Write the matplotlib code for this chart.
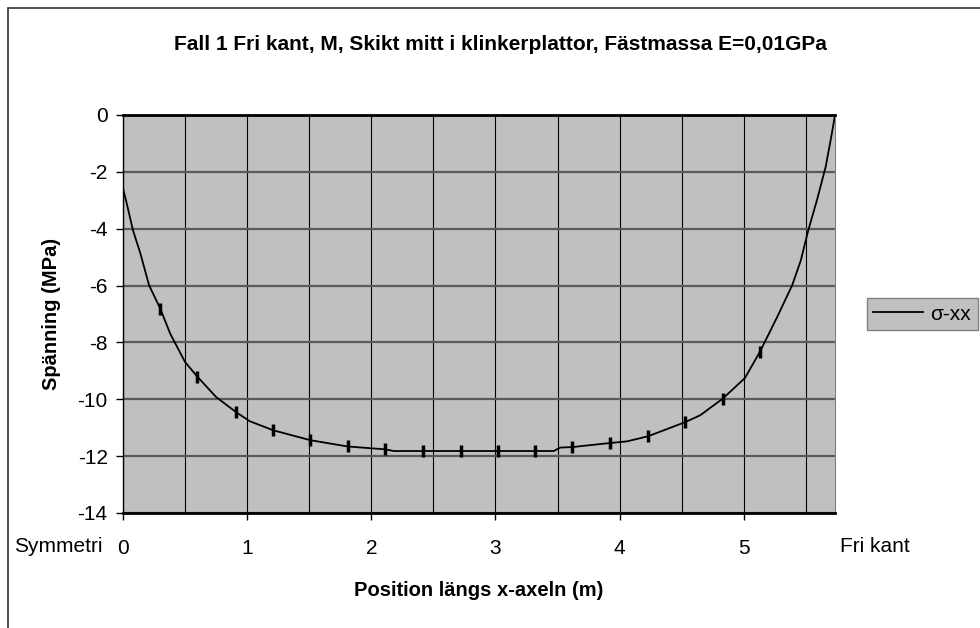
import matplotlib.pyplot as plt
from matplotlib.patches import Rectangle

# values
pos_x = [0.0, 0.03, 0.08, 0.14, 0.21, 0.30, 0.38, 0.50, 0.60, 0.75,
         0.91, 1.02, 1.21, 1.51, 1.81, 2.11, 2.18, 2.42, 2.72, 3.02,
         3.32, 3.47, 3.52, 3.62, 3.92, 4.06, 4.23, 4.53, 4.65, 4.83,
         5.01, 5.13, 5.27, 5.39, 5.46, 5.52, 5.59, 5.66, 5.71, 5.735]
sigma_xx = [-2.58, -3.11, -4.05, -4.87, -5.99, -6.81, -7.69, -8.69, -9.21, -9.92,
            -10.45, -10.77, -11.09, -11.44, -11.66, -11.76, -11.82, -11.82, -11.82, -11.82,
            -11.82, -11.82, -11.70, -11.68, -11.54, -11.48, -11.30, -10.80, -10.56, -9.98,
            -9.25, -8.33, -7.10, -5.99, -5.11, -4.05, -2.99, -1.82, -0.64, 0.0]

# element boundaries (small vertical marks on the curve)
mark_x = [0.30, 0.60, 0.91, 1.21, 1.51, 1.81, 2.11, 2.42, 2.72, 3.02,
          3.32, 3.62, 3.92, 4.23, 4.53, 4.83, 5.13]
mark_y = [-6.81, -9.21, -10.45, -11.09, -11.44, -11.66, -11.76, -11.82, -11.82, -11.82,
          -11.82, -11.68, -11.54, -11.30, -10.80, -9.98, -8.33]

x_ticks = [0, 1, 2, 3, 4, 5]
y_ticks = [0, -2, -4, -6, -8, -10, -12, -14]

title = "Fall 1 Fri kant, M, Skikt mitt i klinkerplattor, Fästmassa E=0,01GPa"

plt.rcParams['font.family'] = ['Liberation Sans', 'DejaVu Sans']
plt.rcParams['axes.unicode_minus'] = False

fig = plt.figure(figsize=(9.8, 6.28), dpi=100)
W, H = 980.0, 628.0
ax = fig.add_axes([123 / W, 1 - 513 / H, (835 - 123) / W, (513 - 115) / H])
ax.set_facecolor('#C0C0C0')

ax.plot(pos_x, sigma_xx, color='black', lw=1.3, label='σ-xx', zorder=3)
ax.plot(mark_x, mark_y, ls='none', marker='|', ms=9, mew=2.5, color='black', zorder=4)

ax.set_xlim(0, 5.735)
ax.set_ylim(-14, 0)
ax.set_xticks(x_ticks)
ax.set_yticks(y_ticks)
ax.set_xticks([0.5 * i for i in range(12)], minor=True)
ax.tick_params(axis='both', labelsize=15, direction='out', length=5, width=1, color='black')
ax.tick_params(axis='y', pad=6)
ax.tick_params(axis='x', which='minor', length=0)
ax.tick_params(axis='x', pad=14)

ax.grid(axis='y', which='major', color='#5a5a5a', lw=1.6)
ax.grid(axis='x', which='both', color='black', lw=0.8)
ax.set_axisbelow(True)

ax.spines['top'].set_linewidth(2)
ax.spines['bottom'].set_linewidth(2)
ax.spines['left'].set_linewidth(1)
ax.spines['right'].set_color('#808080')

ax.set_xlabel("Position längs x-axeln (m)", fontsize=14.5, fontweight='bold', labelpad=16)
ax.set_ylabel("Spänning (MPa)", fontsize=14.5, fontweight='bold', labelpad=12)
fig.text(500 / W, 1 - 44 / H, title, ha='center', va='center', fontsize=15, fontweight='bold')

fig.text(14 / W, 1 - 546 / H, "Symmetri", ha='left', va='center', fontsize=15)
fig.text(840 / W, 1 - 546 / H, "Fri kant", ha='left', va='center', fontsize=15)

leg = ax.legend(loc='center left', bbox_to_anchor=(867 / W, 1 - 314 / H),
                bbox_transform=fig.transFigure, fontsize=15, frameon=True,
                fancybox=False, facecolor='#C0C0C0', edgecolor='#808080',
                framealpha=1, handlelength=2.4, handletextpad=0.35,
                borderpad=0.3, borderaxespad=0)
leg.get_frame().set_linewidth(1)

# outer chart frame (right and bottom edges fall outside the picture)
fig.patches.append(Rectangle((8 / W, -0.1), 1.2, 1 - 8 / H + 0.1, transform=fig.transFigure,
                             fill=False, edgecolor='#333333', lw=1.2))

fig.savefig('out.png', dpi=100)
